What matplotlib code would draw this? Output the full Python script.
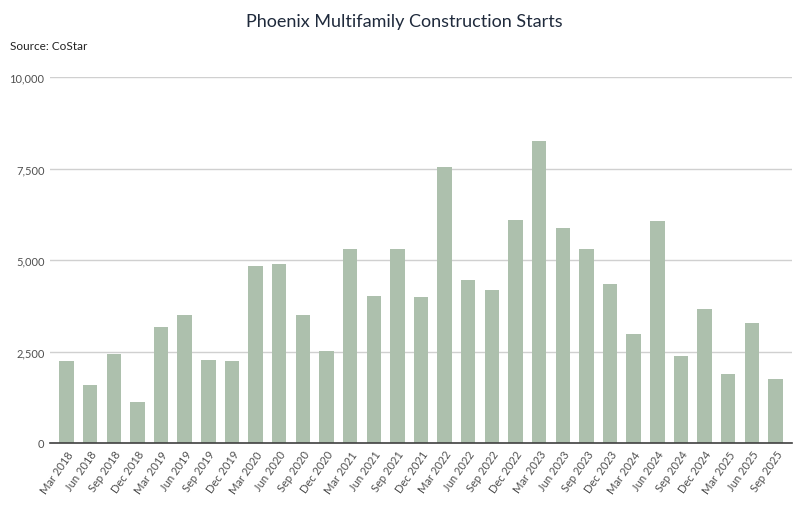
import matplotlib
matplotlib.use("Agg")
import matplotlib.pyplot as plt
from matplotlib.ticker import FuncFormatter

quarters = ["Mar", "Jun", "Sep", "Dec"]
labels = [f"{q} {y}" for y in range(2018, 2026) for q in quarters][:31]

starts = [2230, 1590, 2430, 1120, 3170, 3500, 2270, 2230,
          4840, 4900, 3500, 2520, 5310, 4020, 5310, 3990,
          7540, 4460, 4190, 6100, 8260, 5870, 5310, 4340,
          2970, 6060, 2380, 3670, 1890, 3280, 1740]

plt.rcParams['font.family'] = ['Lato', 'DejaVu Sans']

fig = plt.figure(figsize=(8.08, 5.10), dpi=100)
ax = fig.add_axes([50 / 808, 1 - 444 / 510, 742 / 808, 366 / 510])

x = list(range(len(starts)))
ax.bar(x, starts, width=0.61, color="#adc0ad", zorder=3)

ax.set_xlim(-0.7, len(starts) - 0.3)
ax.set_ylim(0, 10000)
ax.set_yticks([0, 2500, 5000, 7500, 10000])
ax.yaxis.set_major_formatter(FuncFormatter(lambda v, p: f"{int(v):,}"))
ax.grid(axis="y", color="#d0d0d0", linewidth=1, zorder=0)

ax.set_xticks(x)
ax.set_xticklabels(labels, rotation=55, ha="right", rotation_mode="anchor")

for s in ["top", "right", "left"]:
    ax.spines[s].set_visible(False)
ax.spines["bottom"].set_color("#404040")
ax.spines["bottom"].set_linewidth(1.2)
ax.spines["bottom"].set_zorder(5)
ax.tick_params(axis="both", length=0, labelsize=8, colors="#505050")
ax.tick_params(axis="x", pad=4)
ax.tick_params(axis="y", pad=4)

fig.text(0.5, 1 - 22 / 510, "Phoenix Multifamily Construction Starts",
         ha="center", va="center", fontsize=13, color="#1f2a3c")
fig.text(10 / 808, 1 - 46 / 510, "Source: CoStar", ha="left", va="center",
         fontsize=8.5, color="#222222")

plt.savefig("out.png", dpi=100)
